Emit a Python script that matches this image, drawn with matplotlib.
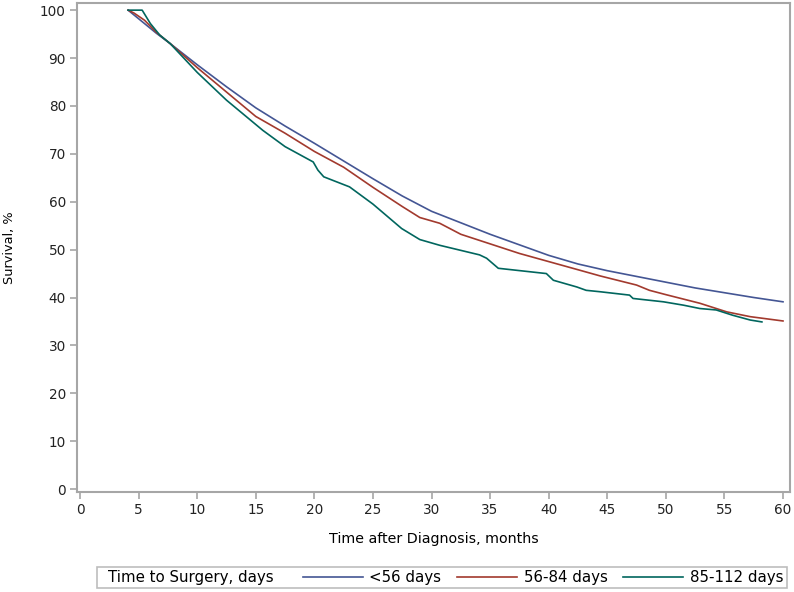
import matplotlib
matplotlib.use("Agg")
import matplotlib.pyplot as plt
from matplotlib.lines import Line2D
from matplotlib.patches import Rectangle

plt.rcParams['font.family'] = ['DejaVu Sans']

# === Data ===
group_labels = ["<56 days", "56-84 days", "85-112 days"]
group_colors = ["#445694", "#A23A2E", "#01665E"]

months_lt56 = [4.1, 4.6, 5.5, 6.5, 7.7, 10, 12.5, 15, 17.5, 20, 22.5, 25, 27.5,
               30, 32.5, 35, 37.5, 40, 42.5, 45, 47.5, 50, 52.5, 55, 57.5, 60]
surv_lt56 = [100, 99.0, 97.2, 95.2, 93.0, 88.6, 84.0, 79.6, 75.8, 72.2, 68.5, 64.8, 61.2,
             58.0, 55.6, 53.2, 51.0, 48.8, 47.0, 45.6, 44.4, 43.2, 42.0, 41.0, 40.0, 39.1]

months_56_84 = [4.1, 4.6, 5.5, 6.5, 7.7, 10, 12.5, 15, 17.5, 20, 22.5, 25, 27.5, 29,
                30.7, 32.5, 35, 37.5, 40, 42.5, 44.4, 47.5, 48.6, 50, 52.9, 55.2, 57.2, 60]
surv_56_84 = [100, 99.4, 97.9, 95.4, 93.0, 88.0, 82.9, 77.8, 74.3, 70.5, 67.2, 63.0, 59.0, 56.7,
              55.5, 53.2, 51.2, 49.2, 47.5, 45.8, 44.5, 42.6, 41.5, 40.6, 38.8, 37.0, 36.0, 35.1]

months_85_112 = [4.1, 5.3, 5.6, 6.0, 6.8, 7.7, 10, 12.5, 15.6, 17.5, 19.9, 20.3, 20.8, 23,
                 25, 27.45, 29, 30.7, 32.4, 34.1, 34.7, 35.7, 39.8, 40.4, 42.4, 43.2, 44.4,
                 46.9, 47.2, 49.8, 51.5, 52.9, 54.3, 55.7, 57.2, 58.2]
surv_85_112 = [100, 100, 98.8, 97.2, 94.8, 93.0, 87.0, 81.2, 74.9, 71.5, 68.3, 66.6, 65.2, 63.1,
               59.5, 54.4, 52.1, 50.9, 49.9, 48.9, 48.2, 46.1, 45.0, 43.6, 42.2, 41.5, 41.2,
               40.5, 39.8, 39.1, 38.4, 37.7, 37.4, 36.3, 35.3, 34.9]

x_ticks = list(range(0, 61, 5))
y_ticks = list(range(0, 101, 10))

# === Plot ===
fig = plt.figure(figsize=(7.94, 5.92), dpi=100)
ax = fig.add_axes([0.097, 0.169, 0.898, 0.826])

series = [(months_lt56, surv_lt56), (months_56_84, surv_56_84), (months_85_112, surv_85_112)]
for (xs, ys), color, label in zip(series, group_colors, group_labels):
    ax.plot(xs, ys, color=color, linewidth=1.2, label=label)

ax.set_xlim(-0.26, 60.6)
ax.set_ylim(-0.6, 101.5)
ax.set_xticks(x_ticks)
ax.set_yticks(y_ticks)

grey = "#a6a6a6"
for s in ax.spines.values():
    s.set_color(grey)
    s.set_linewidth(1.5)
ax.tick_params(direction='out', length=5, width=1.2, color=grey,
               labelsize=9.8, labelcolor="#222222", pad=3)

ax.set_xlabel("Time after Diagnosis, months", fontsize=10.3, labelpad=11)
ax.set_ylabel("Survival, %", fontsize=9.3, labelpad=17)

# === Legend box at bottom ===
box = Rectangle((0.122, 0.006), 0.869, 0.037, transform=fig.transFigure,
                fill=False, edgecolor="#bdbdbd", linewidth=1.2)
fig.patches.append(box)
fig.text(0.136, 0.0245, "Time to Surgery, days", fontsize=10.8, va='center', ha='left')

handles = [Line2D([0], [0], color=c, lw=1.2) for c in group_colors]
fig.legend(handles, group_labels, ncol=3, loc='center left',
           bbox_to_anchor=(0.381, 0.0245), frameon=False, fontsize=10.8,
           handlelength=4.0, handletextpad=0.45, columnspacing=1.05,
           borderaxespad=0, borderpad=0)

plt.savefig("out.png", dpi=100)
plt.close()
